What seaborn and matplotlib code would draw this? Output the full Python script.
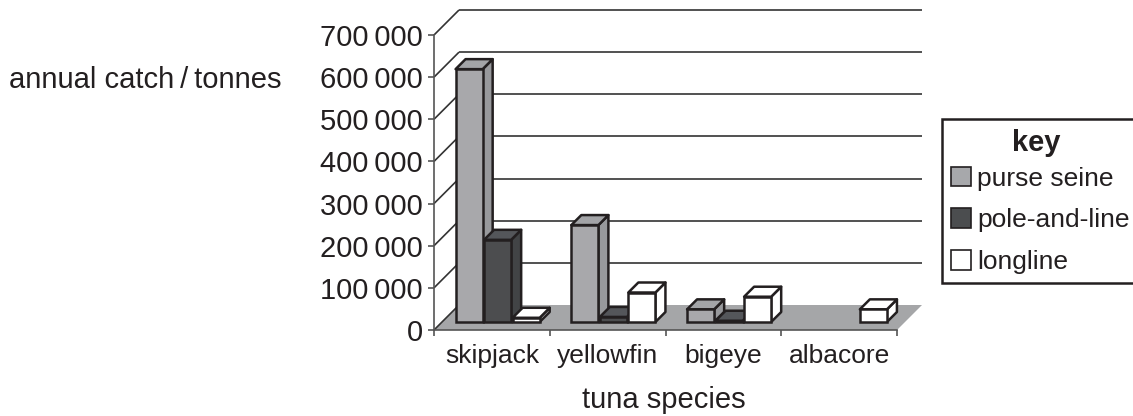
import matplotlib
matplotlib.use('Agg')
import matplotlib.pyplot as plt
from matplotlib.patches import Patch, Polygon
import pandas as pd
import seaborn as sns

species = ['skipjack', 'yellowfin', 'bigeye', 'albacore']
gears = ['purse seine', 'pole-and-line', 'longline']
purse_seine = [600000, 230000, 30000, 0]
pole_and_line = [195000, 12000, 3000, 0]
longline = [10000, 70000, 60000, 30000]
y_ticks = [0, 100000, 200000, 300000, 400000, 500000, 600000, 700000]

INK = '#231f20'
FLOOR = '#a5a6a8'
front = {'purse seine': '#a7a8ab', 'pole-and-line': '#4b4d4f', 'longline': '#ffffff'}
side = {'purse seine': '#98999c', 'pole-and-line': '#424446', 'longline': '#ffffff'}
top = {'purse seine': '#a3a4a7', 'pole-and-line': '#54565a', 'longline': '#ffffff'}

df = pd.DataFrame({
    'species': species * 3,
    'gear': [g for g in gears for _ in species],
    'catch': purse_seine + pole_and_line + longline,
})

sns.set_style('white')
plt.rcParams['font.family'] = ['Liberation Sans', 'DejaVu Sans']
plt.rcParams['text.color'] = INK
plt.rcParams['axes.labelcolor'] = INK

W, H = 1133, 416
fig = plt.figure(figsize=(W / 100, H / 100), dpi=100)
# front plane of the fake 3d box, in pixels
left, right, y0, y700 = 434, 897, 330, 35
ax = fig.add_axes([left / W, 1 - y0 / H, (right - left) / W, (y0 - y700) / H])
ax.patch.set_alpha(0)

sns.barplot(data=df, x='species', y='catch', hue='gear', order=species, hue_order=gears,
            palette=front, width=0.739, gap=0.05, dodge=True, legend=False,
            edgecolor=INK, linewidth=1.8, ax=ax)
ax.set_xlim(-0.5, 3.5)
ax.set_ylim(0, 700000)

# pixel to data unit factors
ux = 4 / (right - left)
uy = 700000 / (y0 - y700)
wall = 25


def face(pts, fc, z, ec=INK, lw=1.8):
    ax.add_patch(Polygon(pts, closed=True, facecolor=fc, edgecolor=ec, linewidth=lw,
                         joinstyle='round', clip_on=False, zorder=z))


def line(xs, ys, color='#333333', lw=1.2, z=0.5):
    ax.plot(xs, ys, color=color, lw=lw, clip_on=False, zorder=z, solid_capstyle='butt')


# floor
xa, xb = -0.5, 3.5
face([(xa, 0), (xb, 0), (xb + wall * ux, wall * uy), (xa + wall * ux, wall * uy)], FLOOR, 0.6, ec='none', lw=0)

# walls
for v in y_ticks[1:]:
    line([xa, xa + wall * ux], [v, v + wall * uy])
    line([xa + wall * ux, xb + wall * ux], [v + wall * uy, v + wall * uy])
line([xa, xa + wall * ux], [0, wall * uy], z=0.7)

# depth of the bars
bar_dx, bar_dy = 5.75 * ux, 8 * uy
depth = 10
ddx, ddy = depth * ux, depth * uy
gear_of = {}
for g, cont in zip(gears, ax.containers):
    for b in cont:
        gear_of[b] = g
bars = sorted(gear_of, key=lambda b: b.get_x())

for i, b in enumerate(bars):
    h = b.get_height()
    if h <= 0:
        b.set_visible(False)
        continue
    g = gear_of[b]
    x1 = b.get_x() + bar_dx
    x2 = x1 + b.get_width()
    y1 = bar_dy
    y2 = bar_dy + h
    z = 2 + i * 0.1
    b.set_x(x1)
    b.set_y(y1)
    b.set_zorder(z + 0.02)
    b.set_clip_on(False)
    face([(x2, y1), (x2 + ddx, y1 + ddy), (x2 + ddx, y2 + ddy), (x2, y2)], side[g], z)
    face([(x1, y2), (x2, y2), (x2 + ddx, y2 + ddy), (x1 + ddx, y2 + ddy)], top[g], z + 0.01)

# axes
sns.despine(ax=ax, top=True, right=True)
for s in ['left', 'bottom']:
    ax.spines[s].set_color('#555555')
    ax.spines[s].set_linewidth(1.2)
    ax.spines[s].set_zorder(5)
ax.set_yticks(y_ticks)
ax.set_yticklabels([f'{v:,}'.replace(',', '\u2009') for v in y_ticks])
ax.set_xticks([-0.5, 0.5, 1.5, 2.5, 3.5], minor=False)
ax.set_xticklabels([])
ax.set_xticks(range(4), labels=species, minor=True)
ax.tick_params(axis='x', which='minor', length=0, pad=10, labelsize=19, labelcolor=INK)
ax.tick_params(axis='x', which='major', length=4, width=1.2, color='#555555', bottom=True)
ax.tick_params(axis='y', length=4, width=1.2, color='#555555', left=True, pad=4,
               labelsize=21, labelcolor=INK)

ax.set_xlabel('tuna species', fontsize=21)
ax.xaxis.set_label_coords((664 - left) / (right - left), -(400 - y0) / (y0 - y700))
ax.xaxis.label.set_va('center')
ax.set_ylabel('annual catch\u2009/\u2009tonnes', fontsize=21, rotation=0, ha='left', va='center')
ax.yaxis.set_label_coords((9 - left) / (right - left), (y0 - 80) / (y0 - y700))

# key
handles = [Patch(facecolor=front[g], edgecolor=INK, linewidth=1.2, label=g) for g in gears]
leg = ax.legend(handles=handles, title='key', loc='upper left', ncol=1,
                bbox_to_anchor=(942 / W, 1 - 119 / H), bbox_transform=fig.transFigure,
                borderaxespad=0, fontsize=19, fancybox=False, framealpha=1, edgecolor=INK,
                handlelength=0.75, handleheight=0.78, handletextpad=0.23, labelspacing=0.66,
                borderpad=0.35, title_fontproperties={'weight': 'bold', 'size': 21,
                                                      'family': 'Liberation Sans'})
leg.get_frame().set_linewidth(1.8)
leg.set_zorder(10)
leg._legend_box.sep = 7.5
leg.get_title().set_position((-4.5, -1.0))

plt.savefig('out.png', dpi=100)
plt.close()
